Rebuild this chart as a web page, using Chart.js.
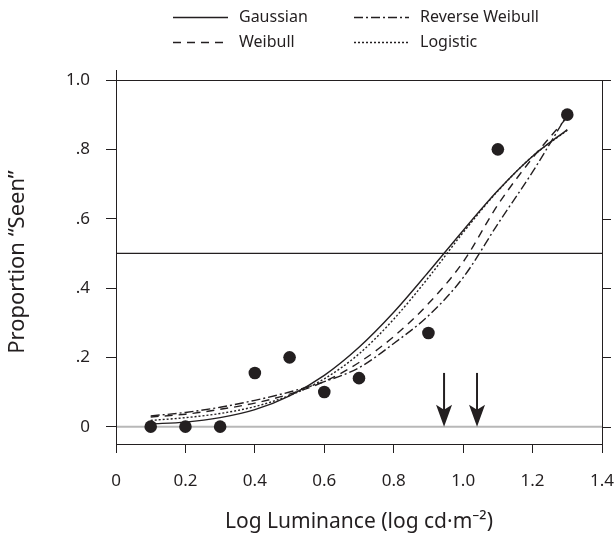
<!DOCTYPE html>
<html>
<head>
    <title>Psychometric Function Fits</title>
    <script src="https://cdn.jsdelivr.net/npm/chart.js@4.4.0/dist/chart.umd.min.js"></script>
    <style>
        body { margin: 0; padding: 0; background: #fff; }
        .chart-box { width: 615px; height: 535px; position: relative; }
    </style>
</head>
<body>
    <div class="chart-box"><canvas id="fitChart"></canvas></div>

    <script>
        // Fitted curves at 0.1 log-unit steps
        const curveX = [0.1, 0.2, 0.3, 0.4, 0.5, 0.6, 0.7, 0.8, 0.9, 1.0, 1.1, 1.2, 1.3];
        const gaussian = [0.008, 0.013, 0.026, 0.049, 0.089, 0.148, 0.229, 0.330, 0.446, 0.566, 0.681, 0.780, 0.857];
        const weibull = [0.028, 0.036, 0.050, 0.068, 0.094, 0.130, 0.185, 0.260, 0.355, 0.475, 0.640, 0.775, 0.893];
        const reverseWeibull = [0.031, 0.041, 0.056, 0.076, 0.100, 0.130, 0.170, 0.240, 0.320, 0.430, 0.585, 0.735, 0.900];
        const logistic = [0.018, 0.026, 0.038, 0.058, 0.090, 0.138, 0.210, 0.310, 0.430, 0.560, 0.680, 0.780, 0.855];

        // Observed proportions
        const obsX = [0.1, 0.2, 0.3, 0.4, 0.5, 0.6, 0.7, 0.9, 1.1, 1.3];
        const obsY = [0, 0, 0, 0.155, 0.2, 0.1, 0.14, 0.27, 0.8, 0.9];

        // Criterion line and threshold arrows
        const criterion = 0.5;
        const arrowX = [0.945, 1.04];
        const arrowTop = 0.155;

        const xTicks = [0, 0.2, 0.4, 0.6, 0.8, 1.0, 1.2, 1.4];
        const yTicks = [0, 0.2, 0.4, 0.6, 0.8, 1.0];
        const yTickLabels = ['0', '.2', '.4', '.6', '.8', '1.0'];

        const ink = '#231f20';
        const font = '"Noto Sans", "Open Sans", sans-serif';

        const toPoints = (xs, ys) => xs.map((x, i) => ({ x: x, y: ys[i] }));

        const curve = (label, ys, dash) => ({
            label: label,
            data: toPoints(curveX, ys),
            borderColor: ink,
            borderWidth: 1.4,
            borderDash: dash,
            pointRadius: 0,
            fill: false,
            cubicInterpolationMode: 'monotone',
            order: 2
        });

        const datasets = [
            {
                label: 'Observed',
                data: toPoints(obsX, obsY),
                showLine: false,
                pointRadius: 6.3,
                pointBackgroundColor: ink,
                pointBorderColor: ink,
                pointBorderWidth: 0,
                order: 1
            },
            curve('Gaussian', gaussian, []),
            curve('Weibull', weibull, [8, 6]),
            curve('Reverse Weibull', reverseWeibull, [9, 3, 2, 3]),
            curve('Logistic', logistic, [2, 2]),
            {
                label: 'criterion',
                data: toPoints([0, 1.4], [criterion, criterion]),
                borderColor: ink,
                borderWidth: 1.3,
                pointRadius: 0,
                order: 3
            },
            {
                label: 'zero',
                data: toPoints([0, 1.4], [0, 0]),
                borderColor: '#b8b8b8',
                borderWidth: 2,
                pointRadius: 0,
                order: 4
            }
        ];

        // legend slots: [dataset label, column, row]
        const legendSlots = [['Gaussian', 0, 0], ['Reverse Weibull', 1, 0], ['Weibull', 0, 1], ['Logistic', 1, 1]];

        const framePlugin = {
            id: 'frame',
            afterDraw(chart) {
                const ctx = chart.ctx;
                const a = chart.chartArea;
                const xs = chart.scales.x, ys = chart.scales.y;
                ctx.save();
                ctx.strokeStyle = ink;
                ctx.lineWidth = 1;
                ctx.strokeRect(a.left + 0.5, a.top + 0.5, a.right - a.left, a.bottom - a.top);
                ctx.beginPath();
                ctx.moveTo(a.left + 0.5, a.top - 10);
                ctx.lineTo(a.left + 0.5, a.top);
                // outward ticks on the right edge
                yTicks.forEach(v => {
                    const py = Math.round(ys.getPixelForValue(v)) + 0.5;
                    ctx.moveTo(a.right, py);
                    ctx.lineTo(a.right + 9, py);
                });
                ctx.stroke();

                // threshold arrows
                ctx.fillStyle = ink;
                ctx.lineWidth = 2;
                arrowX.forEach(v => {
                    const px = xs.getPixelForValue(v);
                    const tip = ys.getPixelForValue(0);
                    const top = ys.getPixelForValue(arrowTop);
                    ctx.beginPath();
                    ctx.moveTo(px, top);
                    ctx.lineTo(px, tip - 15);
                    ctx.stroke();
                    ctx.beginPath();
                    ctx.moveTo(px, tip);
                    ctx.lineTo(px - 8, tip - 22);
                    ctx.lineTo(px, tip - 17);
                    ctx.lineTo(px + 8, tip - 22);
                    ctx.closePath();
                    ctx.fill();
                });

                // legend
                ctx.font = '16px ' + font;
                ctx.textBaseline = 'middle';
                ctx.lineWidth = 1.4;
                legendSlots.forEach(([name, col, row]) => {
                    const ds = chart.data.datasets.find(d => d.label === name);
                    const x0 = col === 0 ? 173 : 354;
                    const y0 = row === 0 ? 17.5 : 42.5;
                    ctx.setLineDash(ds.borderDash);
                    ctx.beginPath();
                    ctx.moveTo(x0, y0);
                    ctx.lineTo(x0 + 55, y0);
                    ctx.stroke();
                    ctx.setLineDash([]);
                    ctx.fillText(name, x0 + 66, y0);
                });
                ctx.restore();
            }
        };

        try {
            new Chart(document.getElementById('fitChart'), {
                type: 'line',
                data: { datasets: datasets },
                options: {
                    responsive: true,
                    maintainAspectRatio: false,
                    animation: false,
                    layout: { padding: { top: 80, right: 13, left: 0, bottom: 0 } },
                    plugins: {
                        legend: { display: false },
                        tooltip: { enabled: false }
                    },
                    scales: {
                        x: {
                            type: 'linear',
                            min: 0,
                            max: 1.4,
                            afterBuildTicks: s => { s.ticks = xTicks.map(v => ({ value: v })); },
                            afterFit: s => { s.height = 91; s.paddingLeft = 0; s.paddingRight = 0; },
                            grid: { drawOnChartArea: false, tickLength: 9, color: ink },
                            border: { display: true, color: ink },
                            ticks: {
                                padding: 18,
                                color: ink,
                                font: { size: 17, family: font },
                                maxRotation: 0,
                                callback: v => (v === 0 ? '0' : v.toFixed(1))
                            },
                            title: {
                                display: true,
                                text: 'Log Luminance (log cd·m⁻²)',
                                color: ink,
                                font: { size: 21, family: font },
                                padding: { top: 0, bottom: 0 }
                            }
                        },
                        y: {
                            min: -0.05,
                            max: 1.0,
                            afterBuildTicks: s => { s.ticks = yTicks.map(v => ({ value: v })); },
                            afterFit: s => { s.width = 116; s.paddingTop = 0; s.paddingBottom = 0; },
                            grid: { drawOnChartArea: false, tickLength: 10, color: ink },
                            border: { display: true, color: ink },
                            ticks: {
                                padding: 16,
                                color: ink,
                                font: { size: 17, family: font },
                                callback: (v, i) => yTickLabels[i]
                            },
                            title: {
                                display: true,
                                text: 'Proportion “Seen”',
                                color: ink,
                                font: { size: 22, family: font },
                                padding: { top: 5, bottom: 0 }
                            }
                        }
                    }
                },
                plugins: [framePlugin]
            });
        } catch (error) {
            console.error('Error rendering chart:', error);
        }
    </script>
</body>
</html>
